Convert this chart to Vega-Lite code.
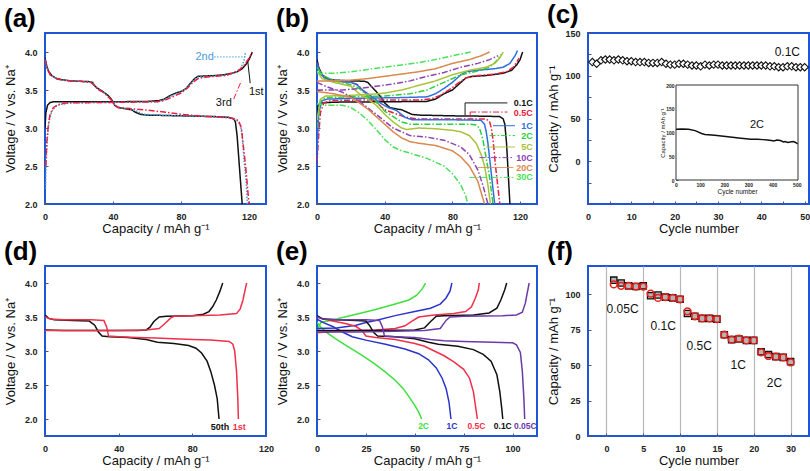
{
"$schema":"https://vega.github.io/schema/vega-lite/v6.json",
"background":"white",
"padding":{"left":3,"top":1,"right":0,"bottom":0},
"columns":3,
"spacing":{"row":62,"column":51},
"bounds":"flush",
"resolve":{"scale":{"color":"independent","strokeDash":"independent"}},
"config":{
 "font":"Liberation Sans",
 "view":{"stroke":"#1f55d8","strokeWidth":2},
 "axis":{"domain":false,"grid":false,"ticks":true,"tickSize":-3,"tickColor":"#555","tickWidth":1,"labelFont":"Liberation Sans","labelFontSize":9,"labelFontWeight":"bold","labelColor":"#222","labelPadding":11,"labelFlush":false,"labelOverlap":false,"titleFont":"Liberation Sans","titleFontSize":13,"titleFontWeight":"normal","titleColor":"#111"},
 "axisY":{"minExtent":23,"maxExtent":23,"titlePadding":5},
 "axisX":{"minExtent":14,"maxExtent":14,"titlePadding":4},
 "title":{"anchor":"start","frame":"bounds","fontSize":26,"fontWeight":"bold","font":"Liberation Sans","color":"#000","offset":1},
 "text":{"font":"Liberation Sans"}
},
"datasets":{
 "a":[
  {"s":"1st","k":"d","x":0,"v":3.92},{"s":"1st","k":"d","x":1,"v":3.82},{"s":"1st","k":"d","x":2,"v":3.75},{"s":"1st","k":"d","x":4,"v":3.69},{"s":"1st","k":"d","x":7,"v":3.65},{"s":"1st","k":"d","x":10,"v":3.635},{"s":"1st","k":"d","x":15,"v":3.62},{"s":"1st","k":"d","x":20,"v":3.615},{"s":"1st","k":"d","x":26,"v":3.61},{"s":"1st","k":"d","x":28,"v":3.6},{"s":"1st","k":"d","x":29,"v":3.56},{"s":"1st","k":"d","x":31,"v":3.52},{"s":"1st","k":"d","x":34,"v":3.48},{"s":"1st","k":"d","x":37,"v":3.43},{"s":"1st","k":"d","x":39,"v":3.38},{"s":"1st","k":"d","x":41,"v":3.3},{"s":"1st","k":"d","x":43,"v":3.27},{"s":"1st","k":"d","x":48,"v":3.25},{"s":"1st","k":"d","x":51,"v":3.24},{"s":"1st","k":"d","x":53,"v":3.21},{"s":"1st","k":"d","x":56,"v":3.18},{"s":"1st","k":"d","x":60,"v":3.17},{"s":"1st","k":"d","x":70,"v":3.165},{"s":"1st","k":"d","x":80,"v":3.16},{"s":"1st","k":"d","x":90,"v":3.155},{"s":"1st","k":"d","x":100,"v":3.15},{"s":"1st","k":"d","x":108,"v":3.14},{"s":"1st","k":"d","x":111,"v":3.12},{"s":"1st","k":"d","x":112,"v":3.08},{"s":"1st","k":"d","x":113,"v":2.9},{"s":"1st","k":"d","x":114,"v":2.6},{"s":"1st","k":"d","x":115,"v":2.3},{"s":"1st","k":"d","x":116,"v":2.0},
  {"s":"2nd","k":"d","x":0,"v":3.9},{"s":"2nd","k":"d","x":1,"v":3.8},{"s":"2nd","k":"d","x":3,"v":3.7},{"s":"2nd","k":"d","x":7,"v":3.645},{"s":"2nd","k":"d","x":12,"v":3.625},{"s":"2nd","k":"d","x":20,"v":3.615},{"s":"2nd","k":"d","x":27,"v":3.605},{"s":"2nd","k":"d","x":29,"v":3.57},{"s":"2nd","k":"d","x":31,"v":3.52},{"s":"2nd","k":"d","x":35,"v":3.46},{"s":"2nd","k":"d","x":39,"v":3.37},{"s":"2nd","k":"d","x":41,"v":3.3},{"s":"2nd","k":"d","x":44,"v":3.27},{"s":"2nd","k":"d","x":50,"v":3.25},{"s":"2nd","k":"d","x":54,"v":3.22},{"s":"2nd","k":"d","x":58,"v":3.18},{"s":"2nd","k":"d","x":70,"v":3.165},{"s":"2nd","k":"d","x":90,"v":3.155},{"s":"2nd","k":"d","x":105,"v":3.145},{"s":"2nd","k":"d","x":110,"v":3.13},{"s":"2nd","k":"d","x":113,"v":3.1},{"s":"2nd","k":"d","x":115,"v":3.04},{"s":"2nd","k":"d","x":116,"v":2.9},{"s":"2nd","k":"d","x":117,"v":2.6},{"s":"2nd","k":"d","x":118.5,"v":2.25},{"s":"2nd","k":"d","x":119,"v":2.0},
  {"s":"3rd","k":"d","x":0,"v":3.9},{"s":"3rd","k":"d","x":1,"v":3.8},{"s":"3rd","k":"d","x":3,"v":3.7},{"s":"3rd","k":"d","x":7,"v":3.645},{"s":"3rd","k":"d","x":12,"v":3.625},{"s":"3rd","k":"d","x":20,"v":3.615},{"s":"3rd","k":"d","x":27,"v":3.6},{"s":"3rd","k":"d","x":29,"v":3.56},{"s":"3rd","k":"d","x":31,"v":3.51},{"s":"3rd","k":"d","x":35,"v":3.46},{"s":"3rd","k":"d","x":39,"v":3.37},{"s":"3rd","k":"d","x":41,"v":3.3},{"s":"3rd","k":"d","x":43,"v":3.27},{"s":"3rd","k":"d","x":50,"v":3.255},{"s":"3rd","k":"d","x":60,"v":3.235},{"s":"3rd","k":"d","x":70,"v":3.21},{"s":"3rd","k":"d","x":80,"v":3.18},{"s":"3rd","k":"d","x":90,"v":3.16},{"s":"3rd","k":"d","x":100,"v":3.145},{"s":"3rd","k":"d","x":108,"v":3.135},{"s":"3rd","k":"d","x":112,"v":3.12},{"s":"3rd","k":"d","x":114,"v":3.09},{"s":"3rd","k":"d","x":115.5,"v":3.0},{"s":"3rd","k":"d","x":116.5,"v":2.8},{"s":"3rd","k":"d","x":118,"v":2.5},{"s":"3rd","k":"d","x":119,"v":2.25},{"s":"3rd","k":"d","x":120,"v":2.0},
  {"s":"1st","k":"c","x":0,"v":3.0},{"s":"1st","k":"c","x":0.5,"v":3.2},{"s":"1st","k":"c","x":1.5,"v":3.3},{"s":"1st","k":"c","x":3,"v":3.335},{"s":"1st","k":"c","x":5,"v":3.345},{"s":"1st","k":"c","x":20,"v":3.345},{"s":"1st","k":"c","x":40,"v":3.345},{"s":"1st","k":"c","x":60,"v":3.35},{"s":"1st","k":"c","x":67,"v":3.36},{"s":"1st","k":"c","x":70,"v":3.38},{"s":"1st","k":"c","x":73,"v":3.42},{"s":"1st","k":"c","x":77,"v":3.46},{"s":"1st","k":"c","x":80,"v":3.48},{"s":"1st","k":"c","x":83,"v":3.52},{"s":"1st","k":"c","x":86,"v":3.6},{"s":"1st","k":"c","x":88,"v":3.65},{"s":"1st","k":"c","x":90,"v":3.68},{"s":"1st","k":"c","x":95,"v":3.685},{"s":"1st","k":"c","x":100,"v":3.69},{"s":"1st","k":"c","x":105,"v":3.7},{"s":"1st","k":"c","x":110,"v":3.72},{"s":"1st","k":"c","x":113,"v":3.74},{"s":"1st","k":"c","x":116,"v":3.78},{"s":"1st","k":"c","x":118,"v":3.83},{"s":"1st","k":"c","x":120,"v":3.9},{"s":"1st","k":"c","x":122,"v":4.0},
  {"s":"2nd","k":"c","x":0.3,"v":2.2},{"s":"2nd","k":"c","x":0.8,"v":2.6},{"s":"2nd","k":"c","x":1.5,"v":2.9},{"s":"2nd","k":"c","x":2.5,"v":3.1},{"s":"2nd","k":"c","x":4,"v":3.22},{"s":"2nd","k":"c","x":6,"v":3.28},{"s":"2nd","k":"c","x":9,"v":3.31},{"s":"2nd","k":"c","x":15,"v":3.33},{"s":"2nd","k":"c","x":30,"v":3.335},{"s":"2nd","k":"c","x":50,"v":3.34},{"s":"2nd","k":"c","x":66,"v":3.345},{"s":"2nd","k":"c","x":70,"v":3.37},{"s":"2nd","k":"c","x":74,"v":3.42},{"s":"2nd","k":"c","x":78,"v":3.46},{"s":"2nd","k":"c","x":82,"v":3.5},{"s":"2nd","k":"c","x":85,"v":3.57},{"s":"2nd","k":"c","x":88,"v":3.64},{"s":"2nd","k":"c","x":90,"v":3.67},{"s":"2nd","k":"c","x":100,"v":3.685},{"s":"2nd","k":"c","x":108,"v":3.7},{"s":"2nd","k":"c","x":112,"v":3.73},{"s":"2nd","k":"c","x":115,"v":3.78},{"s":"2nd","k":"c","x":117,"v":3.88},{"s":"2nd","k":"c","x":118,"v":4.0},
  {"s":"3rd","k":"c","x":0.5,"v":2.5},{"s":"3rd","k":"c","x":1,"v":2.8},{"s":"3rd","k":"c","x":2,"v":3.05},{"s":"3rd","k":"c","x":3,"v":3.18},{"s":"3rd","k":"c","x":5,"v":3.27},{"s":"3rd","k":"c","x":8,"v":3.31},{"s":"3rd","k":"c","x":12,"v":3.33},{"s":"3rd","k":"c","x":30,"v":3.335},{"s":"3rd","k":"c","x":50,"v":3.34},{"s":"3rd","k":"c","x":66,"v":3.345},{"s":"3rd","k":"c","x":70,"v":3.36},{"s":"3rd","k":"c","x":75,"v":3.41},{"s":"3rd","k":"c","x":80,"v":3.46},{"s":"3rd","k":"c","x":84,"v":3.53},{"s":"3rd","k":"c","x":87,"v":3.6},{"s":"3rd","k":"c","x":90,"v":3.65},{"s":"3rd","k":"c","x":95,"v":3.67},{"s":"3rd","k":"c","x":100,"v":3.68},{"s":"3rd","k":"c","x":106,"v":3.69},{"s":"3rd","k":"c","x":110,"v":3.72},{"s":"3rd","k":"c","x":114,"v":3.76},{"s":"3rd","k":"c","x":117,"v":3.82},{"s":"3rd","k":"c","x":120,"v":3.92},{"s":"3rd","k":"c","x":122,"v":4.0}
 ],
 "b":[
  {"s":"0.1C","k":"d","x":0,"v":3.9},{"s":"0.1C","k":"d","x":1,"v":3.8},{"s":"0.1C","k":"d","x":3,"v":3.7},{"s":"0.1C","k":"d","x":6,"v":3.65},{"s":"0.1C","k":"d","x":10,"v":3.63},{"s":"0.1C","k":"d","x":20,"v":3.62},{"s":"0.1C","k":"d","x":28,"v":3.615},{"s":"0.1C","k":"d","x":30,"v":3.6},{"s":"0.1C","k":"d","x":32,"v":3.55},{"s":"0.1C","k":"d","x":35,"v":3.48},{"s":"0.1C","k":"d","x":38,"v":3.4},{"s":"0.1C","k":"d","x":40,"v":3.33},{"s":"0.1C","k":"d","x":43,"v":3.27},{"s":"0.1C","k":"d","x":47,"v":3.25},{"s":"0.1C","k":"d","x":50,"v":3.24},{"s":"0.1C","k":"d","x":53,"v":3.21},{"s":"0.1C","k":"d","x":56,"v":3.18},{"s":"0.1C","k":"d","x":60,"v":3.17},{"s":"0.1C","k":"d","x":80,"v":3.16},{"s":"0.1C","k":"d","x":100,"v":3.155},{"s":"0.1C","k":"d","x":108,"v":3.15},{"s":"0.1C","k":"d","x":110,"v":3.12},{"s":"0.1C","k":"d","x":111,"v":3.05},{"s":"0.1C","k":"d","x":112,"v":2.8},{"s":"0.1C","k":"d","x":113,"v":2.4},{"s":"0.1C","k":"d","x":114,"v":2.0},
  {"s":"0.1C","k":"c","x":0,"v":3.1},{"s":"0.1C","k":"c","x":0.5,"v":3.28},{"s":"0.1C","k":"c","x":1.5,"v":3.32},{"s":"0.1C","k":"c","x":3,"v":3.33},{"s":"0.1C","k":"c","x":10,"v":3.34},{"s":"0.1C","k":"c","x":40,"v":3.345},{"s":"0.1C","k":"c","x":65,"v":3.35},{"s":"0.1C","k":"c","x":70,"v":3.38},{"s":"0.1C","k":"c","x":75,"v":3.45},{"s":"0.1C","k":"c","x":80,"v":3.5},{"s":"0.1C","k":"c","x":85,"v":3.6},{"s":"0.1C","k":"c","x":88,"v":3.66},{"s":"0.1C","k":"c","x":92,"v":3.68},{"s":"0.1C","k":"c","x":100,"v":3.69},{"s":"0.1C","k":"c","x":110,"v":3.72},{"s":"0.1C","k":"c","x":115,"v":3.76},{"s":"0.1C","k":"c","x":118,"v":3.83},{"s":"0.1C","k":"c","x":120,"v":3.9},{"s":"0.1C","k":"c","x":121.5,"v":4.0},
  {"s":"0.5C","k":"d","x":0,"v":3.86},{"s":"0.5C","k":"d","x":2,"v":3.72},{"s":"0.5C","k":"d","x":5,"v":3.65},{"s":"0.5C","k":"d","x":10,"v":3.62},{"s":"0.5C","k":"d","x":20,"v":3.6},{"s":"0.5C","k":"d","x":24,"v":3.57},{"s":"0.5C","k":"d","x":28,"v":3.47},{"s":"0.5C","k":"d","x":32,"v":3.39},{"s":"0.5C","k":"d","x":36,"v":3.32},{"s":"0.5C","k":"d","x":40,"v":3.24},{"s":"0.5C","k":"d","x":45,"v":3.2},{"s":"0.5C","k":"d","x":50,"v":3.16},{"s":"0.5C","k":"d","x":55,"v":3.13},{"s":"0.5C","k":"d","x":60,"v":3.12},{"s":"0.5C","k":"d","x":80,"v":3.12},{"s":"0.5C","k":"d","x":100,"v":3.12},{"s":"0.5C","k":"d","x":102,"v":3.08},{"s":"0.5C","k":"d","x":103,"v":3.0},{"s":"0.5C","k":"d","x":104,"v":2.85},{"s":"0.5C","k":"d","x":105.5,"v":2.5},{"s":"0.5C","k":"d","x":107,"v":2.2},{"s":"0.5C","k":"d","x":108,"v":2.0},
  {"s":"0.5C","k":"c","x":0,"v":2.55},{"s":"0.5C","k":"c","x":1,"v":2.9},{"s":"0.5C","k":"c","x":2,"v":3.2},{"s":"0.5C","k":"c","x":4,"v":3.33},{"s":"0.5C","k":"c","x":8,"v":3.36},{"s":"0.5C","k":"c","x":30,"v":3.37},{"s":"0.5C","k":"c","x":60,"v":3.37},{"s":"0.5C","k":"c","x":67,"v":3.38},{"s":"0.5C","k":"c","x":72,"v":3.42},{"s":"0.5C","k":"c","x":78,"v":3.5},{"s":"0.5C","k":"c","x":84,"v":3.6},{"s":"0.5C","k":"c","x":88,"v":3.66},{"s":"0.5C","k":"c","x":95,"v":3.69},{"s":"0.5C","k":"c","x":105,"v":3.71},{"s":"0.5C","k":"c","x":112,"v":3.74},{"s":"0.5C","k":"c","x":116,"v":3.8},{"s":"0.5C","k":"c","x":119.5,"v":3.92},
  {"s":"1C","k":"d","x":0,"v":3.85},{"s":"1C","k":"d","x":2,"v":3.72},{"s":"1C","k":"d","x":5,"v":3.65},{"s":"1C","k":"d","x":10,"v":3.62},{"s":"1C","k":"d","x":20,"v":3.6},{"s":"1C","k":"d","x":23,"v":3.58},{"s":"1C","k":"d","x":27,"v":3.5},{"s":"1C","k":"d","x":32,"v":3.42},{"s":"1C","k":"d","x":38,"v":3.32},{"s":"1C","k":"d","x":42,"v":3.27},{"s":"1C","k":"d","x":47,"v":3.23},{"s":"1C","k":"d","x":52,"v":3.14},{"s":"1C","k":"d","x":56,"v":3.11},{"s":"1C","k":"d","x":70,"v":3.11},{"s":"1C","k":"d","x":90,"v":3.105},{"s":"1C","k":"d","x":97,"v":3.1},{"s":"1C","k":"d","x":99,"v":3.05},{"s":"1C","k":"d","x":100,"v":2.95},{"s":"1C","k":"d","x":101,"v":2.8},{"s":"1C","k":"d","x":102.5,"v":2.5},{"s":"1C","k":"d","x":104,"v":2.2},{"s":"1C","k":"d","x":105,"v":2.0},
  {"s":"1C","k":"c","x":0,"v":2.7},{"s":"1C","k":"c","x":1,"v":3.2},{"s":"1C","k":"c","x":3,"v":3.36},{"s":"1C","k":"c","x":6,"v":3.38},{"s":"1C","k":"c","x":20,"v":3.39},{"s":"1C","k":"c","x":50,"v":3.4},{"s":"1C","k":"c","x":65,"v":3.41},{"s":"1C","k":"c","x":70,"v":3.45},{"s":"1C","k":"c","x":75,"v":3.52},{"s":"1C","k":"c","x":80,"v":3.6},{"s":"1C","k":"c","x":85,"v":3.7},{"s":"1C","k":"c","x":88,"v":3.74},{"s":"1C","k":"c","x":95,"v":3.76},{"s":"1C","k":"c","x":105,"v":3.78},{"s":"1C","k":"c","x":110,"v":3.8},{"s":"1C","k":"c","x":114,"v":3.85},{"s":"1C","k":"c","x":117,"v":3.95},{"s":"1C","k":"c","x":118.5,"v":4.02},
  {"s":"2C","k":"d","x":0,"v":3.8},{"s":"2C","k":"d","x":3,"v":3.7},{"s":"2C","k":"d","x":10,"v":3.62},{"s":"2C","k":"d","x":20,"v":3.57},{"s":"2C","k":"d","x":25,"v":3.52},{"s":"2C","k":"d","x":30,"v":3.42},{"s":"2C","k":"d","x":35,"v":3.35},{"s":"2C","k":"d","x":40,"v":3.22},{"s":"2C","k":"d","x":45,"v":3.15},{"s":"2C","k":"d","x":50,"v":3.08},{"s":"2C","k":"d","x":55,"v":3.05},{"s":"2C","k":"d","x":70,"v":3.05},{"s":"2C","k":"d","x":90,"v":3.05},{"s":"2C","k":"d","x":94,"v":3.04},{"s":"2C","k":"d","x":96,"v":3.0},{"s":"2C","k":"d","x":98,"v":2.85},{"s":"2C","k":"d","x":100,"v":2.6},{"s":"2C","k":"d","x":102,"v":2.35},{"s":"2C","k":"d","x":104,"v":2.0},
  {"s":"2C","k":"c","x":0,"v":3.0},{"s":"2C","k":"c","x":2,"v":3.35},{"s":"2C","k":"c","x":5,"v":3.4},{"s":"2C","k":"c","x":20,"v":3.41},{"s":"2C","k":"c","x":40,"v":3.42},{"s":"2C","k":"c","x":55,"v":3.45},{"s":"2C","k":"c","x":65,"v":3.5},{"s":"2C","k":"c","x":75,"v":3.6},{"s":"2C","k":"c","x":85,"v":3.7},{"s":"2C","k":"c","x":95,"v":3.75},{"s":"2C","k":"c","x":102,"v":3.8},{"s":"2C","k":"c","x":106,"v":3.88},{"s":"2C","k":"c","x":109,"v":3.97},
  {"s":"5C","k":"d","x":0,"v":3.75},{"s":"5C","k":"d","x":3,"v":3.65},{"s":"5C","k":"d","x":10,"v":3.6},{"s":"5C","k":"d","x":20,"v":3.55},{"s":"5C","k":"d","x":25,"v":3.45},{"s":"5C","k":"d","x":30,"v":3.38},{"s":"5C","k":"d","x":35,"v":3.3},{"s":"5C","k":"d","x":40,"v":3.18},{"s":"5C","k":"d","x":45,"v":3.08},{"s":"5C","k":"d","x":50,"v":3.0},{"s":"5C","k":"d","x":53,"v":2.98},{"s":"5C","k":"d","x":60,"v":3.0},{"s":"5C","k":"d","x":70,"v":2.99},{"s":"5C","k":"d","x":80,"v":2.97},{"s":"5C","k":"d","x":85,"v":2.95},{"s":"5C","k":"d","x":90,"v":2.9},{"s":"5C","k":"d","x":94,"v":2.8},{"s":"5C","k":"d","x":97,"v":2.65},{"s":"5C","k":"d","x":99,"v":2.5},{"s":"5C","k":"d","x":101,"v":2.25},{"s":"5C","k":"d","x":102.5,"v":2.0},
  {"s":"5C","k":"c","x":0,"v":3.1},{"s":"5C","k":"c","x":2,"v":3.38},{"s":"5C","k":"c","x":5,"v":3.42},{"s":"5C","k":"c","x":20,"v":3.43},{"s":"5C","k":"c","x":30,"v":3.44},{"s":"5C","k":"c","x":40,"v":3.46},{"s":"5C","k":"c","x":50,"v":3.5},{"s":"5C","k":"c","x":60,"v":3.56},{"s":"5C","k":"c","x":70,"v":3.62},{"s":"5C","k":"c","x":80,"v":3.7},{"s":"5C","k":"c","x":90,"v":3.76},{"s":"5C","k":"c","x":100,"v":3.8},{"s":"5C","k":"c","x":105,"v":3.85},{"s":"5C","k":"c","x":108,"v":3.92},{"s":"5C","k":"c","x":110,"v":4.0},
  {"s":"10C","k":"d","x":0,"v":3.6},{"s":"10C","k":"d","x":5,"v":3.55},{"s":"10C","k":"d","x":15,"v":3.47},{"s":"10C","k":"d","x":25,"v":3.35},{"s":"10C","k":"d","x":35,"v":3.18},{"s":"10C","k":"d","x":45,"v":3.0},{"s":"10C","k":"d","x":55,"v":2.9},{"s":"10C","k":"d","x":65,"v":2.88},{"s":"10C","k":"d","x":75,"v":2.84},{"s":"10C","k":"d","x":85,"v":2.75},{"s":"10C","k":"d","x":90,"v":2.65},{"s":"10C","k":"d","x":95,"v":2.45},{"s":"10C","k":"d","x":98,"v":2.25},{"s":"10C","k":"d","x":101,"v":2.0},
  {"s":"10C","k":"c","x":0,"v":3.5},{"s":"10C","k":"c","x":15,"v":3.5},{"s":"10C","k":"c","x":25,"v":3.52},{"s":"10C","k":"c","x":35,"v":3.55},{"s":"10C","k":"c","x":45,"v":3.58},{"s":"10C","k":"c","x":55,"v":3.62},{"s":"10C","k":"c","x":65,"v":3.68},{"s":"10C","k":"c","x":75,"v":3.73},{"s":"10C","k":"c","x":85,"v":3.8},{"s":"10C","k":"c","x":95,"v":3.85},{"s":"10C","k":"c","x":102,"v":3.9},{"s":"10C","k":"c","x":107,"v":3.95},
  {"s":"20C","k":"d","x":0,"v":3.48},{"s":"20C","k":"d","x":10,"v":3.45},{"s":"20C","k":"d","x":20,"v":3.4},{"s":"20C","k":"d","x":25,"v":3.33},{"s":"20C","k":"d","x":30,"v":3.25},{"s":"20C","k":"d","x":35,"v":3.15},{"s":"20C","k":"d","x":40,"v":3.05},{"s":"20C","k":"d","x":45,"v":2.95},{"s":"20C","k":"d","x":50,"v":2.87},{"s":"20C","k":"d","x":55,"v":2.82},{"s":"20C","k":"d","x":60,"v":2.8},{"s":"20C","k":"d","x":70,"v":2.77},{"s":"20C","k":"d","x":80,"v":2.7},{"s":"20C","k":"d","x":85,"v":2.62},{"s":"20C","k":"d","x":90,"v":2.5},{"s":"20C","k":"d","x":95,"v":2.3},{"s":"20C","k":"d","x":99,"v":2.0},
  {"s":"20C","k":"c","x":0,"v":3.62},{"s":"20C","k":"c","x":10,"v":3.62},{"s":"20C","k":"c","x":20,"v":3.63},{"s":"20C","k":"c","x":30,"v":3.65},{"s":"20C","k":"c","x":40,"v":3.68},{"s":"20C","k":"c","x":50,"v":3.71},{"s":"20C","k":"c","x":60,"v":3.74},{"s":"20C","k":"c","x":70,"v":3.78},{"s":"20C","k":"c","x":80,"v":3.85},{"s":"20C","k":"c","x":90,"v":3.9},{"s":"20C","k":"c","x":97,"v":3.95},{"s":"20C","k":"c","x":102,"v":4.0},
  {"s":"30C","k":"d","x":0,"v":3.32},{"s":"30C","k":"d","x":5,"v":3.3},{"s":"30C","k":"d","x":15,"v":3.3},{"s":"30C","k":"d","x":20,"v":3.27},{"s":"30C","k":"d","x":25,"v":3.2},{"s":"30C","k":"d","x":30,"v":3.1},{"s":"30C","k":"d","x":35,"v":2.98},{"s":"30C","k":"d","x":40,"v":2.85},{"s":"30C","k":"d","x":45,"v":2.75},{"s":"30C","k":"d","x":50,"v":2.7},{"s":"30C","k":"d","x":55,"v":2.67},{"s":"30C","k":"d","x":65,"v":2.6},{"s":"30C","k":"d","x":75,"v":2.5},{"s":"30C","k":"d","x":80,"v":2.4},{"s":"30C","k":"d","x":85,"v":2.25},{"s":"30C","k":"d","x":88,"v":2.1},{"s":"30C","k":"d","x":89,"v":2.0},
  {"s":"30C","k":"c","x":0,"v":3.72},{"s":"30C","k":"c","x":10,"v":3.72},{"s":"30C","k":"c","x":20,"v":3.74},{"s":"30C","k":"c","x":30,"v":3.77},{"s":"30C","k":"c","x":40,"v":3.8},{"s":"30C","k":"c","x":50,"v":3.83},{"s":"30C","k":"c","x":60,"v":3.86},{"s":"30C","k":"c","x":70,"v":3.9},{"s":"30C","k":"c","x":80,"v":3.95},{"s":"30C","k":"c","x":91,"v":4.0}
 ],
 "bLeg":[
  {"s":"0.1C","x":87.5,"x2":112.5,"v":3.33,"v2":3.33},{"s":"0.1C","x":87.5,"x2":87.5,"v":3.33,"v2":3.17},
  {"s":"0.5C","x":90.5,"x2":112.5,"v":3.21,"v2":3.21},{"s":"0.5C","x":90.5,"x2":90.5,"v":3.21,"v2":3.14},
  {"s":"1C","x":104,"x2":117,"v":3.03,"v2":3.03},
  {"s":"2C","x":102,"x2":117,"v":2.9,"v2":2.9},
  {"s":"5C","x":100,"x2":117,"v":2.75,"v2":2.75},
  {"s":"10C","x":96,"x2":116,"v":2.61,"v2":2.61},
  {"s":"20C","x":95,"x2":116,"v":2.48,"v2":2.48},
  {"s":"30C","x":90,"x2":116,"v":2.35,"v2":2.35}
 ],
 "bTxt":[
  {"s":"0.1C","x":127.5,"v":3.33},{"s":"0.5C","x":127.5,"v":3.2},{"s":"1C","x":127.5,"v":3.03},{"s":"2C","x":127.5,"v":2.9},{"s":"5C","x":127.5,"v":2.75},{"s":"10C","x":127.5,"v":2.61},{"s":"20C","x":127.5,"v":2.47},{"s":"30C","x":127.5,"v":2.35}
 ],
 "c":[
  {"n":1,"cap":116},{"n":2,"cap":114},{"n":3,"cap":118},{"n":4,"cap":119},{"n":5,"cap":119},{"n":6,"cap":118},{"n":7,"cap":119},{"n":8,"cap":118},{"n":9,"cap":117},{"n":10,"cap":117},
  {"n":11,"cap":116},{"n":12,"cap":116},{"n":13,"cap":116},{"n":14,"cap":115},{"n":15,"cap":115},{"n":16,"cap":115},{"n":17,"cap":116},{"n":18,"cap":114},{"n":19,"cap":113},{"n":20,"cap":113},
  {"n":21,"cap":114},{"n":22,"cap":114},{"n":23,"cap":113},{"n":24,"cap":112},{"n":25,"cap":112},{"n":26,"cap":111},{"n":27,"cap":113},{"n":28,"cap":112},{"n":29,"cap":113},{"n":30,"cap":113},
  {"n":31,"cap":112},{"n":32,"cap":112},{"n":33,"cap":112},{"n":34,"cap":112},{"n":35,"cap":112},{"n":36,"cap":112},{"n":37,"cap":112},{"n":38,"cap":112},{"n":39,"cap":112},{"n":40,"cap":112},
  {"n":41,"cap":112},{"n":42,"cap":111},{"n":43,"cap":111},{"n":44,"cap":110},{"n":45,"cap":110},{"n":46,"cap":111},{"n":47,"cap":111},{"n":48,"cap":110},{"n":49,"cap":110},{"n":50,"cap":110}
 ],
 "cIn":[
  {"n":0,"cap":107},{"n":25,"cap":107.5},{"n":52,"cap":107},{"n":79,"cap":104},{"n":106,"cap":98},{"n":120,"cap":96},{"n":160,"cap":94},{"n":215,"cap":91},{"n":269,"cap":88},{"n":290,"cap":87},{"n":310,"cap":86},{"n":337,"cap":86},{"n":360,"cap":85},{"n":378,"cap":84},{"n":395,"cap":83},{"n":405,"cap":82},{"n":418,"cap":84},{"n":432,"cap":83},{"n":445,"cap":80},{"n":452,"cap":81},{"n":463,"cap":79},{"n":473,"cap":80},{"n":486,"cap":81},{"n":495,"cap":79},{"n":503,"cap":76}
 ],
 "d":[
  {"s":"50th","k":"d","x":0,"v":3.53},{"s":"50th","k":"d","x":2,"v":3.48},{"s":"50th","k":"d","x":5,"v":3.46},{"s":"50th","k":"d","x":15,"v":3.45},{"s":"50th","k":"d","x":24,"v":3.44},{"s":"50th","k":"d","x":27,"v":3.38},{"s":"50th","k":"d","x":29,"v":3.28},{"s":"50th","k":"d","x":31,"v":3.22},{"s":"50th","k":"d","x":35,"v":3.21},{"s":"50th","k":"d","x":45,"v":3.2},{"s":"50th","k":"d","x":55,"v":3.17},{"s":"50th","k":"d","x":61,"v":3.13},{"s":"50th","k":"d","x":70,"v":3.11},{"s":"50th","k":"d","x":78,"v":3.08},{"s":"50th","k":"d","x":82,"v":3.04},{"s":"50th","k":"d","x":85,"v":2.97},{"s":"50th","k":"d","x":88,"v":2.85},{"s":"50th","k":"d","x":90,"v":2.7},{"s":"50th","k":"d","x":92,"v":2.5},{"s":"50th","k":"d","x":93.5,"v":2.3},{"s":"50th","k":"d","x":94.5,"v":2.0},
  {"s":"50th","k":"c","x":0,"v":3.31},{"s":"50th","k":"c","x":10,"v":3.3},{"s":"50th","k":"c","x":30,"v":3.3},{"s":"50th","k":"c","x":50,"v":3.3},{"s":"50th","k":"c","x":55,"v":3.31},{"s":"50th","k":"c","x":57,"v":3.35},{"s":"50th","k":"c","x":59,"v":3.43},{"s":"50th","k":"c","x":62,"v":3.5},{"s":"50th","k":"c","x":66,"v":3.51},{"s":"50th","k":"c","x":80,"v":3.52},{"s":"50th","k":"c","x":86,"v":3.54},{"s":"50th","k":"c","x":89,"v":3.58},{"s":"50th","k":"c","x":91,"v":3.65},{"s":"50th","k":"c","x":93,"v":3.75},{"s":"50th","k":"c","x":95,"v":3.88},{"s":"50th","k":"c","x":96.5,"v":4.0},
  {"s":"1st","k":"d","x":0,"v":3.5},{"s":"1st","k":"d","x":3,"v":3.47},{"s":"1st","k":"d","x":10,"v":3.46},{"s":"1st","k":"d","x":25,"v":3.46},{"s":"1st","k":"d","x":32,"v":3.45},{"s":"1st","k":"d","x":33.5,"v":3.35},{"s":"1st","k":"d","x":34.5,"v":3.22},{"s":"1st","k":"d","x":40,"v":3.21},{"s":"1st","k":"d","x":50,"v":3.2},{"s":"1st","k":"d","x":60,"v":3.19},{"s":"1st","k":"d","x":70,"v":3.18},{"s":"1st","k":"d","x":80,"v":3.17},{"s":"1st","k":"d","x":90,"v":3.16},{"s":"1st","k":"d","x":100,"v":3.14},{"s":"1st","k":"d","x":102,"v":3.1},{"s":"1st","k":"d","x":103,"v":3.0},{"s":"1st","k":"d","x":104,"v":2.7},{"s":"1st","k":"d","x":104.7,"v":2.3},{"s":"1st","k":"d","x":105,"v":2.0},
  {"s":"1st","k":"c","x":0,"v":3.3},{"s":"1st","k":"c","x":20,"v":3.3},{"s":"1st","k":"c","x":40,"v":3.3},{"s":"1st","k":"c","x":55,"v":3.31},{"s":"1st","k":"c","x":62,"v":3.33},{"s":"1st","k":"c","x":65,"v":3.4},{"s":"1st","k":"c","x":68,"v":3.48},{"s":"1st","k":"c","x":70,"v":3.51},{"s":"1st","k":"c","x":80,"v":3.52},{"s":"1st","k":"c","x":95,"v":3.53},{"s":"1st","k":"c","x":104,"v":3.55},{"s":"1st","k":"c","x":106,"v":3.62},{"s":"1st","k":"c","x":107.5,"v":3.75},{"s":"1st","k":"c","x":108.5,"v":3.88},{"s":"1st","k":"c","x":109.5,"v":4.0}
 ],
 "e":[
  {"s":"2C","k":"d","x":0,"v":3.42},{"s":"2C","k":"d","x":2,"v":3.35},{"s":"2C","k":"d","x":5,"v":3.27},{"s":"2C","k":"d","x":10,"v":3.17},{"s":"2C","k":"d","x":15,"v":3.08},{"s":"2C","k":"d","x":20,"v":2.99},{"s":"2C","k":"d","x":25,"v":2.9},{"s":"2C","k":"d","x":30,"v":2.8},{"s":"2C","k":"d","x":35,"v":2.69},{"s":"2C","k":"d","x":40,"v":2.57},{"s":"2C","k":"d","x":44,"v":2.45},{"s":"2C","k":"d","x":47,"v":2.33},{"s":"2C","k":"d","x":50,"v":2.2},{"s":"2C","k":"d","x":52,"v":2.1},{"s":"2C","k":"d","x":53.5,"v":2.0},
  {"s":"2C","k":"c","x":0,"v":3.3},{"s":"2C","k":"c","x":2,"v":3.42},{"s":"2C","k":"c","x":10,"v":3.47},{"s":"2C","k":"c","x":20,"v":3.54},{"s":"2C","k":"c","x":30,"v":3.61},{"s":"2C","k":"c","x":40,"v":3.69},{"s":"2C","k":"c","x":47,"v":3.75},{"s":"2C","k":"c","x":51,"v":3.82},{"s":"2C","k":"c","x":54,"v":3.92},{"s":"2C","k":"c","x":55.5,"v":4.0},
  {"s":"1C","k":"d","x":0,"v":3.47},{"s":"1C","k":"d","x":3,"v":3.42},{"s":"1C","k":"d","x":8,"v":3.36},{"s":"1C","k":"d","x":13,"v":3.28},{"s":"1C","k":"d","x":18,"v":3.21},{"s":"1C","k":"d","x":25,"v":3.16},{"s":"1C","k":"d","x":35,"v":3.1},{"s":"1C","k":"d","x":45,"v":3.03},{"s":"1C","k":"d","x":52,"v":2.96},{"s":"1C","k":"d","x":57,"v":2.87},{"s":"1C","k":"d","x":61,"v":2.75},{"s":"1C","k":"d","x":64,"v":2.6},{"s":"1C","k":"d","x":66,"v":2.45},{"s":"1C","k":"d","x":67.5,"v":2.25},{"s":"1C","k":"d","x":68.5,"v":2.0},
  {"s":"1C","k":"c","x":0,"v":3.33},{"s":"1C","k":"c","x":10,"v":3.34},{"s":"1C","k":"c","x":20,"v":3.38},{"s":"1C","k":"c","x":25,"v":3.42},{"s":"1C","k":"c","x":30,"v":3.45},{"s":"1C","k":"c","x":40,"v":3.52},{"s":"1C","k":"c","x":50,"v":3.58},{"s":"1C","k":"c","x":58,"v":3.63},{"s":"1C","k":"c","x":63,"v":3.69},{"s":"1C","k":"c","x":66,"v":3.78},{"s":"1C","k":"c","x":68,"v":3.88},{"s":"1C","k":"c","x":69,"v":4.0},
  {"s":"0.5C","k":"d","x":0,"v":3.5},{"s":"0.5C","k":"d","x":5,"v":3.46},{"s":"0.5C","k":"d","x":10,"v":3.43},{"s":"0.5C","k":"d","x":15,"v":3.4},{"s":"0.5C","k":"d","x":20,"v":3.36},{"s":"0.5C","k":"d","x":23,"v":3.3},{"s":"0.5C","k":"d","x":25,"v":3.22},{"s":"0.5C","k":"d","x":30,"v":3.2},{"s":"0.5C","k":"d","x":40,"v":3.17},{"s":"0.5C","k":"d","x":50,"v":3.11},{"s":"0.5C","k":"d","x":55,"v":3.07},{"s":"0.5C","k":"d","x":60,"v":3.0},{"s":"0.5C","k":"d","x":65,"v":2.93},{"s":"0.5C","k":"d","x":70,"v":2.84},{"s":"0.5C","k":"d","x":75,"v":2.73},{"s":"0.5C","k":"d","x":78,"v":2.6},{"s":"0.5C","k":"d","x":80,"v":2.4},{"s":"0.5C","k":"d","x":81,"v":2.2},{"s":"0.5C","k":"d","x":82,"v":2.0},
  {"s":"0.5C","k":"c","x":0,"v":3.27},{"s":"0.5C","k":"c","x":10,"v":3.29},{"s":"0.5C","k":"c","x":20,"v":3.3},{"s":"0.5C","k":"c","x":30,"v":3.31},{"s":"0.5C","k":"c","x":40,"v":3.33},{"s":"0.5C","k":"c","x":45,"v":3.37},{"s":"0.5C","k":"c","x":48,"v":3.43},{"s":"0.5C","k":"c","x":52,"v":3.5},{"s":"0.5C","k":"c","x":60,"v":3.53},{"s":"0.5C","k":"c","x":70,"v":3.55},{"s":"0.5C","k":"c","x":76,"v":3.58},{"s":"0.5C","k":"c","x":79,"v":3.65},{"s":"0.5C","k":"c","x":81,"v":3.78},{"s":"0.5C","k":"c","x":82.5,"v":3.9},{"s":"0.5C","k":"c","x":83,"v":4.0},
  {"s":"0.1C","k":"d","x":0,"v":3.52},{"s":"0.1C","k":"d","x":3,"v":3.47},{"s":"0.1C","k":"d","x":10,"v":3.46},{"s":"0.1C","k":"d","x":20,"v":3.45},{"s":"0.1C","k":"d","x":25,"v":3.44},{"s":"0.1C","k":"d","x":27,"v":3.37},{"s":"0.1C","k":"d","x":29,"v":3.27},{"s":"0.1C","k":"d","x":31,"v":3.22},{"s":"0.1C","k":"d","x":40,"v":3.21},{"s":"0.1C","k":"d","x":50,"v":3.18},{"s":"0.1C","k":"d","x":57,"v":3.13},{"s":"0.1C","k":"d","x":62,"v":3.1},{"s":"0.1C","k":"d","x":72,"v":3.07},{"s":"0.1C","k":"d","x":80,"v":3.02},{"s":"0.1C","k":"d","x":85,"v":2.95},{"s":"0.1C","k":"d","x":89,"v":2.85},{"s":"0.1C","k":"d","x":92,"v":2.65},{"s":"0.1C","k":"d","x":93.5,"v":2.4},{"s":"0.1C","k":"d","x":94.5,"v":2.15},{"s":"0.1C","k":"d","x":95,"v":2.0},
  {"s":"0.1C","k":"c","x":0,"v":3.3},{"s":"0.1C","k":"c","x":10,"v":3.3},{"s":"0.1C","k":"c","x":30,"v":3.3},{"s":"0.1C","k":"c","x":50,"v":3.31},{"s":"0.1C","k":"c","x":55,"v":3.34},{"s":"0.1C","k":"c","x":58,"v":3.43},{"s":"0.1C","k":"c","x":61,"v":3.51},{"s":"0.1C","k":"c","x":65,"v":3.52},{"s":"0.1C","k":"c","x":80,"v":3.53},{"s":"0.1C","k":"c","x":88,"v":3.56},{"s":"0.1C","k":"c","x":92,"v":3.63},{"s":"0.1C","k":"c","x":94,"v":3.75},{"s":"0.1C","k":"c","x":96,"v":3.9},{"s":"0.1C","k":"c","x":97,"v":4.0},
  {"s":"0.05C","k":"d","x":0,"v":3.5},{"s":"0.05C","k":"d","x":3,"v":3.47},{"s":"0.05C","k":"d","x":10,"v":3.46},{"s":"0.05C","k":"d","x":25,"v":3.46},{"s":"0.05C","k":"d","x":32,"v":3.45},{"s":"0.05C","k":"d","x":33.5,"v":3.35},{"s":"0.05C","k":"d","x":34.5,"v":3.22},{"s":"0.05C","k":"d","x":40,"v":3.21},{"s":"0.05C","k":"d","x":50,"v":3.2},{"s":"0.05C","k":"d","x":58,"v":3.17},{"s":"0.05C","k":"d","x":65,"v":3.15},{"s":"0.05C","k":"d","x":75,"v":3.14},{"s":"0.05C","k":"d","x":90,"v":3.13},{"s":"0.05C","k":"d","x":100,"v":3.12},{"s":"0.05C","k":"d","x":102,"v":3.09},{"s":"0.05C","k":"d","x":104,"v":2.98},{"s":"0.05C","k":"d","x":105,"v":2.7},{"s":"0.05C","k":"d","x":105.8,"v":2.3},{"s":"0.05C","k":"d","x":106.2,"v":2.0},
  {"s":"0.05C","k":"c","x":0,"v":3.28},{"s":"0.05C","k":"c","x":20,"v":3.28},{"s":"0.05C","k":"c","x":40,"v":3.29},{"s":"0.05C","k":"c","x":55,"v":3.3},{"s":"0.05C","k":"c","x":63,"v":3.33},{"s":"0.05C","k":"c","x":66,"v":3.45},{"s":"0.05C","k":"c","x":68,"v":3.5},{"s":"0.05C","k":"c","x":75,"v":3.51},{"s":"0.05C","k":"c","x":95,"v":3.52},{"s":"0.05C","k":"c","x":102,"v":3.53},{"s":"0.05C","k":"c","x":105,"v":3.57},{"s":"0.05C","k":"c","x":106.5,"v":3.7},{"s":"0.05C","k":"c","x":107.5,"v":3.85},{"s":"0.05C","k":"c","x":108.5,"v":4.0}
 ],
 "eTxt":[{"s":"2C","x":54.5,"v":1.9},{"s":"1C","x":69,"v":1.9},{"s":"0.5C","x":81.5,"v":1.9},{"s":"0.1C","x":95,"v":1.9},{"s":"0.05C","x":106.5,"v":1.9}],
 "f":[
  {"s":"sq","n":1,"cap":110},{"s":"sq","n":2,"cap":108},{"s":"sq","n":3,"cap":106},{"s":"sq","n":4,"cap":105.5},{"s":"sq","n":5,"cap":106},{"s":"sq","n":6,"cap":99},{"s":"sq","n":7,"cap":99.5},{"s":"sq","n":8,"cap":98},{"s":"sq","n":9,"cap":97.5},{"s":"sq","n":10,"cap":96.5},{"s":"sq","n":11,"cap":86.5},{"s":"sq","n":12,"cap":84.5},{"s":"sq","n":13,"cap":83},{"s":"sq","n":14,"cap":83},{"s":"sq","n":15,"cap":82.5},{"s":"sq","n":16,"cap":71.5},{"s":"sq","n":17,"cap":68},{"s":"sq","n":18,"cap":68.5},{"s":"sq","n":19,"cap":67.5},{"s":"sq","n":20,"cap":67.5},{"s":"sq","n":21,"cap":59.5},{"s":"sq","n":22,"cap":57.5},{"s":"sq","n":23,"cap":56},{"s":"sq","n":24,"cap":55.5},{"s":"sq","n":25,"cap":52.5},
  {"s":"ci","n":1,"cap":107},{"s":"ci","n":2,"cap":106},{"s":"ci","n":3,"cap":106},{"s":"ci","n":4,"cap":105.5},{"s":"ci","n":5,"cap":105.5},{"s":"ci","n":6,"cap":100.5},{"s":"ci","n":7,"cap":97.5},{"s":"ci","n":8,"cap":98},{"s":"ci","n":9,"cap":97.5},{"s":"ci","n":10,"cap":96.5},{"s":"ci","n":11,"cap":88},{"s":"ci","n":12,"cap":84.5},{"s":"ci","n":13,"cap":83},{"s":"ci","n":14,"cap":83},{"s":"ci","n":15,"cap":82.5},{"s":"ci","n":16,"cap":71.5},{"s":"ci","n":17,"cap":68},{"s":"ci","n":18,"cap":68.7},{"s":"ci","n":19,"cap":67.5},{"s":"ci","n":20,"cap":67.5},{"s":"ci","n":21,"cap":59},{"s":"ci","n":22,"cap":56.5},{"s":"ci","n":23,"cap":56},{"s":"ci","n":24,"cap":55.5},{"s":"ci","n":25,"cap":52}
 ],
 "fTxt":[{"t":"0.05C","n":2.2,"cap":89.8},{"t":"0.1C","n":7.7,"cap":77.6},{"t":"0.5C","n":12.6,"cap":63.5},{"t":"1C","n":17.9,"cap":49.9},{"t":"2C","n":22.8,"cap":37.6}]
},
"concat":[
 {
  "title":{"text":"(a)"},
  "width":221,"height":171,
  "layer":[
   {"data":{"name":"a"},"mark":{"type":"line","strokeWidth":1.5,"clip":true},
    "encoding":{
     "x":{"field":"x","type":"quantitative","scale":{"domain":[0,130],"nice":false,"zero":false},"axis":{"title":"Capacity / mAh g⁻¹","values":[0,10,20,30,40,50,60,70,80,90,100,110,120],"labelExpr":"datum.value % 20 === 0 ? datum.label : ''"}},
     "y":{"field":"v","type":"quantitative","scale":{"domain":[2,4.25],"nice":false,"zero":false},"axis":{"title":"Voltage / V vs. Na⁺","values":[2,2.25,2.5,2.75,3,3.25,3.5,3.75,4],"format":".1f","labelExpr":"(datum.value*2) % 1 === 0 ? datum.label : ''"}},
     "color":{"field":"s","type":"nominal","scale":{"domain":["1st","2nd","3rd"],"range":["#111111","#4a9de0","#e8203c"]},"legend":null},
     "strokeDash":{"field":"s","type":"nominal","scale":{"domain":["1st","2nd","3rd"],"range":[[1,0],[1.5,1.5],[6,2,1.5,2]]},"legend":null},
     "detail":{"field":"k"},
     "order":{"value":null}}},
   {"data":{"values":[{"x":99.5,"x2":117.5,"v":3.935,"v2":3.935}]},"mark":{"type":"rule","color":"#4a9de0","strokeWidth":1,"strokeDash":[1.5,1.5]},
    "encoding":{"x":{"field":"x","type":"quantitative"},"x2":{"field":"x2"},"y":{"field":"v","type":"quantitative"},"y2":{"field":"v2"}}},
   {"data":{"values":[{"x":119.3,"x2":120.7,"v":3.87,"v2":3.59}]},"mark":{"type":"rule","color":"#111","strokeWidth":1},
    "encoding":{"x":{"field":"x","type":"quantitative"},"x2":{"field":"x2"},"y":{"field":"v","type":"quantitative"},"y2":{"field":"v2"}}},
   {"data":{"values":[{"x":111,"x2":115.5,"v":3.38,"v2":3.62}]},"mark":{"type":"rule","color":"#e8203c","strokeWidth":1,"strokeDash":[6,2,1.5,2]},
    "encoding":{"x":{"field":"x","type":"quantitative"},"x2":{"field":"x2"},"y":{"field":"v","type":"quantitative"},"y2":{"field":"v2"}}},
   {"data":{"values":[{"x":88.5,"v":3.935,"t":"2nd"}]},"mark":{"type":"text","align":"left","baseline":"middle","fontSize":11,"color":"#4a9de0"},
    "encoding":{"x":{"field":"x","type":"quantitative"},"y":{"field":"v","type":"quantitative"},"text":{"field":"t"}}},
   {"data":{"values":[{"x":120,"v":3.48,"t":"1st"},{"x":100.5,"v":3.33,"t":"3rd"}]},"mark":{"type":"text","align":"left","baseline":"middle","fontSize":11,"color":"#111"},
    "encoding":{"x":{"field":"x","type":"quantitative"},"y":{"field":"v","type":"quantitative"},"text":{"field":"t"}}}
  ]
 },
 {
  "title":{"text":"(b)"},
  "width":220,"height":171,
  "layer":[
   {"data":{"name":"b"},"mark":{"type":"line","strokeWidth":1.5,"clip":true},
    "encoding":{
     "x":{"field":"x","type":"quantitative","scale":{"domain":[0,130],"nice":false,"zero":false},"axis":{"title":"Capacity / mAh g⁻¹","values":[0,10,20,30,40,50,60,70,80,90,100,110,120],"labelExpr":"datum.value % 20 === 0 ? datum.label : ''"}},
     "y":{"field":"v","type":"quantitative","scale":{"domain":[2,4.25],"nice":false,"zero":false},"axis":{"title":"Voltage / V vs. Na⁺","values":[2,2.25,2.5,2.75,3,3.25,3.5,3.75,4],"format":".1f","labelExpr":"(datum.value*2) % 1 === 0 ? datum.label : ''"}},
     "color":{"field":"s","type":"nominal","scale":{"domain":["0.1C","0.5C","1C","2C","5C","10C","20C","30C"],"range":["#111111","#e8203c","#2f6fe0","#2ccf3a","#a9c23a","#8e44b0","#d9884e","#49e05a"]},"legend":null},
     "strokeDash":{"field":"s","type":"nominal","scale":{"domain":["0.1C","0.5C","1C","2C","5C","10C","20C","30C"],"range":[[1,0],[6,2,1.5,2],[1,0],[6,2,1.5,2],[1,0],[6,2,1.5,2],[1,0],[6,2,1.5,2]]},"legend":null},
     "detail":{"field":"k"},
     "order":{"value":null}}},
   {"data":{"name":"bLeg"},"mark":{"type":"rule","strokeWidth":1},
    "encoding":{"x":{"field":"x","type":"quantitative"},"x2":{"field":"x2"},"y":{"field":"v","type":"quantitative"},"y2":{"field":"v2"},
     "color":{"field":"s","type":"nominal","legend":null},"strokeDash":{"field":"s","type":"nominal","legend":null}}},
   {"data":{"name":"bTxt"},"mark":{"type":"text","align":"right","baseline":"middle","fontSize":9,"fontWeight":"bold"},
    "encoding":{"x":{"field":"x","type":"quantitative"},"y":{"field":"v","type":"quantitative"},"text":{"field":"s"},"color":{"field":"s","type":"nominal","legend":null}}}
  ]
 },
 {
  "title":{"text":"(c)"},
  "width":221,"height":171,
  "layer":[
   {"data":{"name":"c"},"mark":{"type":"point","shape":"diamond","filled":true,"fill":"white","stroke":"#111","strokeWidth":1.1,"size":55,"opacity":1},
    "encoding":{
     "x":{"field":"n","type":"quantitative","scale":{"domain":[0,51],"nice":false,"zero":false},"axis":{"title":"Cycle number","orient":"bottom","values":[0,5,10,15,20,25,30,35,40,45,50],"labelExpr":"datum.value % 10 === 0 ? datum.label : ''"}},
     "y":{"field":"cap","type":"quantitative","scale":{"domain":[-50,150],"nice":false,"zero":false},"axis":{"title":"Capacity / mAh g⁻¹","orient":"left","values":[-25,0,25,50,75,100,125,150],"labelExpr":"datum.value % 50 === 0 ? datum.label : ''"}}}},
   {"data":{"values":[{"n":46,"cap":128,"t":"0.1C"}]},"mark":{"type":"text","fontSize":12,"align":"center","baseline":"middle","color":"#111"},
    "encoding":{"x":{"field":"n","type":"quantitative","scale":{"domain":[0,51],"nice":false,"zero":false},"axis":null},"y":{"field":"cap","type":"quantitative","scale":{"domain":[-50,150],"nice":false,"zero":false},"axis":null},"text":{"field":"t"}}},
   {"data":{"values":[{"x0":0,"x1":505,"y0":0,"y1":200}]},"mark":{"type":"rect","fill":"white","stroke":"#333","strokeWidth":1},
    "encoding":{
     "x":{"field":"x0","type":"quantitative","scale":{"domain":[0,505],"range":[88,210],"nice":false,"zero":false},"axis":{"title":"Cycle number","orient":"bottom","offset":-24,"values":[0,100,200,300,400,500],"labelFontSize":5,"labelPadding":4,"tickSize":-2,"minExtent":7,"maxExtent":7,"titlePadding":1,"titleFontSize":6.5}},
     "x2":{"field":"x1"},
     "y":{"field":"y0","type":"quantitative","scale":{"domain":[0,200],"range":[147,52],"nice":false,"zero":false},"axis":{"title":"Capacity / mAh g⁻¹","orient":"left","offset":-88,"values":[0,50,100,150,200],"labelFontSize":5,"labelPadding":4,"tickSize":-2,"minExtent":10,"maxExtent":10,"titlePadding":1,"titleFontSize":6}},
     "y2":{"field":"y1"}}},
   {"data":{"name":"cIn"},"mark":{"type":"line","color":"#111","strokeWidth":1.5},
    "encoding":{"x":{"field":"n","type":"quantitative","scale":{"domain":[0,505],"range":[88,210],"nice":false,"zero":false},"axis":null},"y":{"field":"cap","type":"quantitative","scale":{"domain":[0,200],"range":[147,52],"nice":false,"zero":false},"axis":null},"order":{"value":null}}},
   {"data":{"values":[{"n":335,"cap":116,"t":"2C"}]},"mark":{"type":"text","fontSize":11,"align":"center","baseline":"middle","color":"#111"},
    "encoding":{"x":{"field":"n","type":"quantitative","scale":{"domain":[0,505],"range":[88,210],"nice":false,"zero":false},"axis":null},"y":{"field":"cap","type":"quantitative","scale":{"domain":[0,200],"range":[147,52],"nice":false,"zero":false},"axis":null},"text":{"field":"t"}}}
  ],
  "resolve":{"scale":{"x":"independent","y":"independent"}}
 },
 {
  "title":{"text":"(d)"},
  "width":221,"height":170,
  "layer":[
   {"data":{"name":"d"},"mark":{"type":"line","strokeWidth":1.5,"clip":true},
    "encoding":{
     "x":{"field":"x","type":"quantitative","scale":{"domain":[0,120],"nice":false,"zero":false},"axis":{"title":"Capacity / mAh g⁻¹","values":[0,10,20,30,40,50,60,70,80,90,100,110,120],"labelExpr":"datum.value % 20 === 0 ? datum.label : ''"}},
     "y":{"field":"v","type":"quantitative","scale":{"domain":[1.75,4.25],"nice":false,"zero":false},"axis":{"title":"Voltage / V vs. Na⁺","values":[2,2.25,2.5,2.75,3,3.25,3.5,3.75,4],"format":".1f","labelExpr":"(datum.value*2) % 1 === 0 ? datum.label : ''"}},
     "color":{"field":"s","type":"nominal","scale":{"domain":["50th","1st"],"range":["#111111","#f0304a"]},"legend":null},
     "detail":{"field":"k"},
     "order":{"value":null}}},
   {"data":{"values":[{"s":"50th","x":95,"v":1.88},{"s":"1st","x":105.5,"v":1.88}]},"mark":{"type":"text","align":"center","baseline":"middle","fontSize":9,"fontWeight":"bold"},
    "encoding":{"x":{"field":"x","type":"quantitative"},"y":{"field":"v","type":"quantitative"},"text":{"field":"s"},"color":{"field":"s","type":"nominal","legend":null}}}
  ]
 },
 {
  "title":{"text":"(e)"},
  "width":220,"height":170,
  "layer":[
   {"data":{"name":"e"},"mark":{"type":"line","strokeWidth":1.5,"clip":true},
    "encoding":{
     "x":{"field":"x","type":"quantitative","scale":{"domain":[0,112.5],"nice":false,"zero":false},"axis":{"title":"Capacity / mAh g⁻¹","values":[0,12.5,25,37.5,50,62.5,75,87.5,100],"labelExpr":"datum.value % 25 === 0 ? datum.label : ''"}},
     "y":{"field":"v","type":"quantitative","scale":{"domain":[1.75,4.25],"nice":false,"zero":false},"axis":{"title":"Voltage / V vs. Na⁺","values":[2,2.25,2.5,2.75,3,3.25,3.5,3.75,4],"format":".1f","labelExpr":"(datum.value*2) % 1 === 0 ? datum.label : ''"}},
     "color":{"field":"s","type":"nominal","scale":{"domain":["2C","1C","0.5C","0.1C","0.05C"],"range":["#3de03d","#2a35c8","#f0304a","#111111","#6a3aa8"]},"legend":null},
     "detail":{"field":"k"},
     "order":{"value":null}}},
   {"data":{"name":"eTxt"},"mark":{"type":"text","align":"center","baseline":"middle","fontSize":8.5,"fontWeight":"bold"},
    "encoding":{"x":{"field":"x","type":"quantitative"},"y":{"field":"v","type":"quantitative"},"text":{"field":"s"},"color":{"field":"s","type":"nominal","legend":null}}}
  ]
 },
 {
  "title":{"text":"(f)"},
  "width":221,"height":170,
  "layer":[
   {"data":{"name":"f"},"transform":[{"filter":"datum.s === 'sq'"}],"mark":{"type":"point","shape":"square","filled":true,"fill":"#b5b5b5","stroke":"#111","strokeWidth":1.3,"size":40,"opacity":1},
    "encoding":{
     "x":{"field":"n","type":"quantitative","scale":{"domain":[-2.5,27.5],"nice":false,"zero":false},"axis":{"title":"Cycle number","values":[0,5,10,15,20,25],"labelExpr":"datum.value === 25 ? '30' : datum.label","grid":true,"gridColor":"#b8b8b8","gridWidth":1.2,"titlePadding":4}},
     "y":{"field":"cap","type":"quantitative","scale":{"domain":[0,120],"nice":false,"zero":false},"axis":{"title":"Capacity / mAh g⁻¹","values":[0,12.5,25,37.5,50,62.5,75,87.5,100,112.5],"labelExpr":"datum.value % 25 === 0 ? datum.label : ''"}}}},
   {"data":{"name":"f"},"transform":[{"filter":"datum.s === 'ci'"}],"mark":{"type":"point","shape":"circle","filled":false,"stroke":"#e8201c","strokeWidth":1.6,"size":45,"opacity":1},
    "encoding":{"x":{"field":"n","type":"quantitative"},"y":{"field":"cap","type":"quantitative"}}},
   {"data":{"name":"fTxt"},"mark":{"type":"text","align":"center","baseline":"middle","fontSize":12,"color":"#111"},
    "encoding":{"x":{"field":"n","type":"quantitative"},"y":{"field":"cap","type":"quantitative"},"text":{"field":"t"}}}
  ]
 }
]
}
